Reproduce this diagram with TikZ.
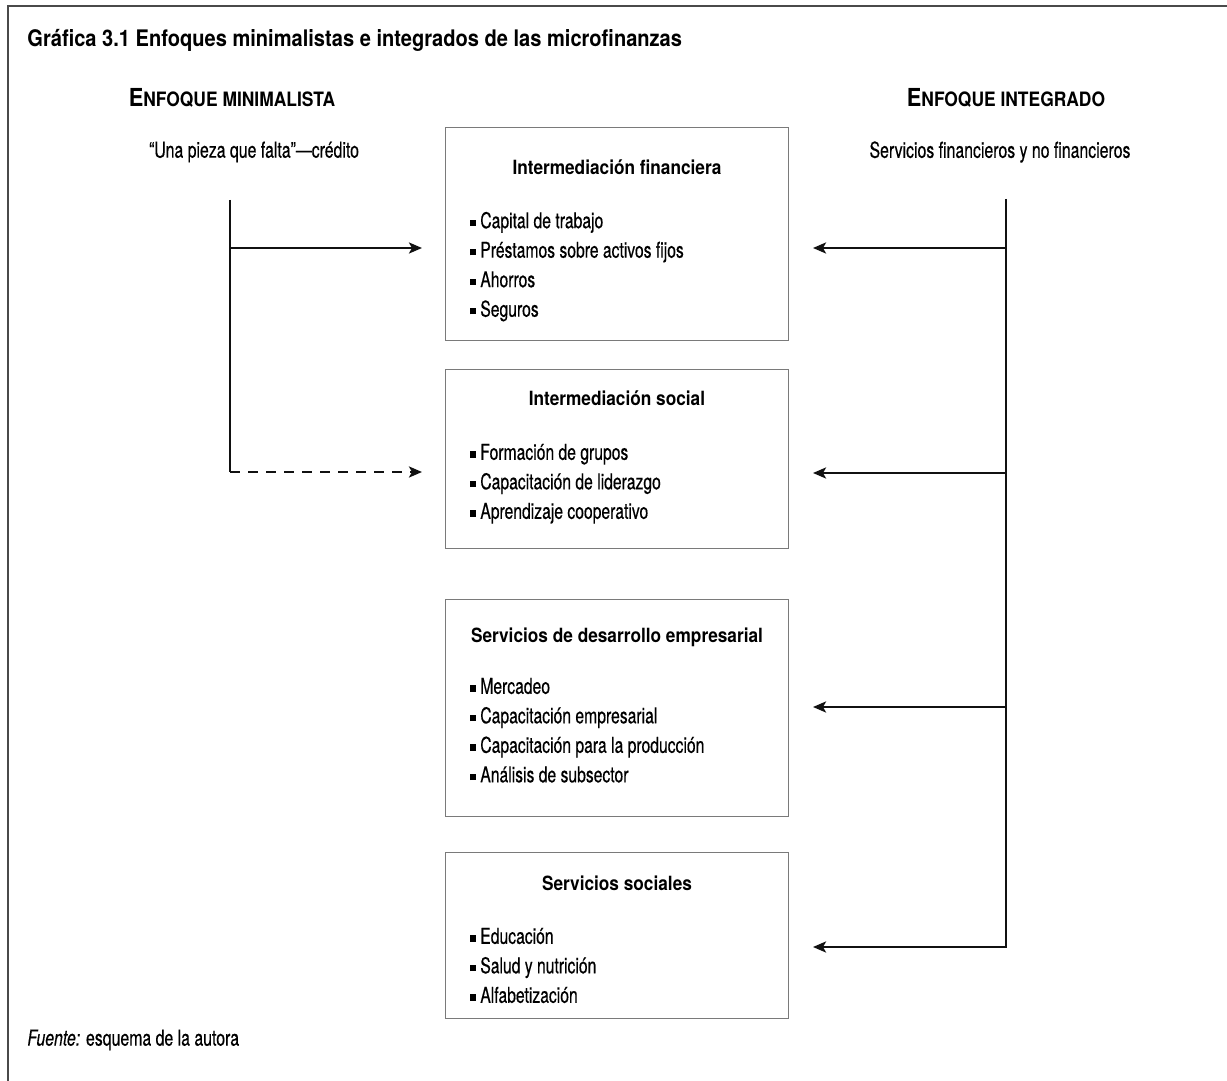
\documentclass[tikz,border=0pt]{standalone}
\usepackage{fontspec}
\setmainfont{TeX Gyre Heros}[FakeStretch=0.72, UprightFeatures={FakeBold=0.4}, BoldFeatures={FakeStretch=0.88}, ItalicFeatures={FakeBold=0.4}]
\usepackage{xcolor}
\usepackage{tikz}
\usetikzlibrary{arrows.meta, positioning, calc}
\definecolor{framegray}{HTML}{4A4A4A}
\definecolor{boxgray}{HTML}{7A7A7A}
\definecolor{inkblack}{HTML}{111111}
\newcommand{\itm}{\rule[0.2ex]{0.45ex}{0.55ex}\hspace{0.22em}}
\newcommand{\smallcap}[2]{{\fontsize{12.4}{14}\selectfont #1}{\fontsize{9.9}{12}\selectfont #2}}
\tikzset{
  frame/.style={line width=0.8pt, draw=framegray},
  caption/.style={font=\fontsize{11.4}{14}\selectfont\bfseries, inner sep=0pt},
  heading/.style={font=\bfseries, inner sep=0pt},
  subhead/.style={font=\fontsize{11}{13}\selectfont, inner sep=0pt},
  panel/.style={
    rectangle, draw=boxgray, line width=0.5pt,
    minimum width=171.5pt, inner sep=0pt,
  },
  paneltitle/.style={font=\fontsize{9.8}{12}\selectfont\bfseries, inner sep=0pt},
  panellist/.style={align=left, font=\fontsize{10.9}{14.75}\selectfont, inner sep=0pt},
  link/.style={line width=1.2pt, draw=inkblack},
  arrow/.style={link, -{Stealth[length=6.5pt, width=5.5pt, inset=1.5pt]}},
  dashline/.style={dash pattern=on 5pt off 4pt},
  note/.style={font=\fontsize{11}{13}\selectfont, inner sep=0pt},
}
\begin{document}
\begin{tikzpicture}[x=0.5pt, y=-0.5pt]
  \useasboundingbox (0,0) rectangle (1227,1081);
  \draw[frame] (1227,6) -- (8,6) -- (8,1081);

  \node[caption, anchor=west] (title) at (27,40) {Gráfica 3.1 Enfoques minimalistas e integrados de las microfinanzas};

  \node[heading] (minhead) at (232,98) {\smallcap{E}{NFOQUE MINIMALISTA}};
  \node[heading] (inthead) at (1006,98) {\smallcap{E}{NFOQUE INTEGRADO}};
  \node[subhead] (minsub) at (254,152) {“Una pieza que falta”---crédito};
  \node[subhead] (intsub) at (1000,152) {Servicios financieros y no financieros};

  % the four boxes
  \node[panel, minimum height=106pt] (fin) at (617,234) {};
  \node[paneltitle, below=16pt of fin.north] (fintitle) {Intermediación financiera};
  \node[panellist, below right=42pt and 12.5pt of fin.north west] (finlist)
    {\itm Capital de trabajo\\ \itm Préstamos sobre activos fijos\\ \itm Ahorros\\ \itm Seguros};

  \node[panel, minimum height=89.5pt] (soc) at (617,458.5) {};
  \node[paneltitle, below=11pt of soc.north] (soctitle) {Intermediación social};
  \node[panellist, below right=37.5pt and 12.5pt of soc.north west] (soclist)
    {\itm Formación de grupos\\ \itm Capacitación de liderazgo\\ \itm Aprendizaje cooperativo};

  \node[panel, minimum height=108.5pt] (des) at (617,707.5) {};
  \node[paneltitle, below=14.5pt of des.north] (destitle) {Servicios de desarrollo empresarial};
  \node[panellist, below right=39.5pt and 12.5pt of des.north west] (deslist)
    {\itm Mercadeo\\ \itm Capacitación empresarial\\ \itm Capacitación para la producción\\ \itm Análisis de subsector};

  \node[panel, minimum height=83pt] (sos) at (617,935) {};
  \node[paneltitle, below=12pt of sos.north] (sostitle) {Servicios sociales};
  \node[panellist, below right=38pt and 12.5pt of sos.north west] (soslist)
    {\itm Educación\\ \itm Salud y nutrición\\ \itm Alfabetización};

  \node[note, anchor=west] (source) at (27,1040) {\textit{Fuente:} esquema de la autora};

  % minimalist side
  \coordinate (ltop) at (230,200);
  \coordinate (lfin) at (230,248);
  \coordinate (lsoc) at (230,472);
  \draw[link] (ltop) -- (lsoc);
  \draw[arrow, shorten >=11.5pt] (lfin) -- (lfin -| fin.west);
  \draw[arrow, dashline, shorten >=11.5pt] (lsoc) -- (lsoc -| soc.west);

  % integrated side
  \coordinate (rtop) at (1006,199);
  \coordinate (rfin) at (1006,248);
  \coordinate (rsoc) at (1006,473);
  \coordinate (rdes) at (1006,707);
  \coordinate (rsos) at (1006,947);
  \draw[arrow, shorten >=12pt] (rtop) -- (rsos) -- (rsos -| sos.east);
  \draw[arrow, shorten >=12pt] (rfin) -- (rfin -| fin.east);
  \draw[arrow, shorten >=12pt] (rsoc) -- (rsoc -| soc.east);
  \draw[arrow, shorten >=12pt] (rdes) -- (rdes -| des.east);

\end{tikzpicture}
\end{document}
